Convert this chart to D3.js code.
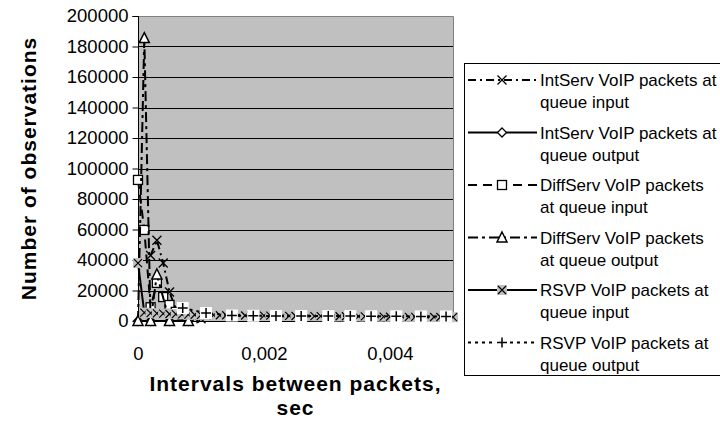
<!DOCTYPE html>
<html><head><meta charset="utf-8">
<script src="https://cdn.jsdelivr.net/npm/d3@7/dist/d3.min.js"></script>
<style>
body{margin:0;background:#fff}
svg{display:block}
text{font-family:"Liberation Sans",Arial,sans-serif;fill:#000}
</style>
</head><body>
<svg id="c" width="720" height="425"></svg>
<script>
// ---------- data ----------
const yTicks = [0, 20000, 40000, 60000, 80000, 100000, 120000, 140000, 160000, 180000, 200000];
const xTicks = [0, 0.002, 0.004];
const xTitleLines = ["Intervals between packets,", "sec"];
const yTitle = "Number of observations";

const seriesNames = [
  ["IntServ VoIP packets at", "queue input"],
  ["IntServ VoIP packets at", "queue output"],
  ["DiffServ VoIP packets", "at queue input"],
  ["DiffServ VoIP packets", "at queue output"],
  ["RSVP VoIP packets at", "queue input"],
  ["RSVP VoIP packets at", "queue output"]
];

// IntServ input
const intInX = [0.0002, 0.0003, 0.0004, 0.0005, 0.0006, 0.0007, 0.0008, 0.0009, 0.001];
const intInY = [43000, 53000, 38000, 19000, 8000, 4500, 3000, 2000, 1500];
// IntServ output
const intOutX = [0, 0.0002, 0.0005, 0.0008];
const intOutY = [0, 0, 0, 0];
// DiffServ input
const diffInX = [0, 0.0001, 0.0002, 0.0003, 0.0004, 0.0005, 0.0006, 0.0007, 0.0008];
const diffInY = [92500, 59700, 9000, 25000, 15700, 10500, 6000, 4000, 3000];
// DiffServ output
const diffOutX = [0, 0.0001, 0.0002, 0.0003, 0.0005, 0.0008];
const diffOutY = [0, 185500, 0, 30500, 0, 0];
// RSVP input
const rsvpInX = [0, 0.0001, 0.0002, 0.0003, 0.0004, 0.0005, 0.0006, 0.0007, 0.0008, 0.0009, 0.001,
  0.0011, 0.0012, 0.0013, 0.0014, 0.0015, 0.0016, 0.0017, 0.0018, 0.0019, 0.002,
  0.0021, 0.0022, 0.0023, 0.0024, 0.0025, 0.0026, 0.0027, 0.0028, 0.0029, 0.003,
  0.0031, 0.0032, 0.0033, 0.0034, 0.0035, 0.0036, 0.0037, 0.0038, 0.0039, 0.004,
  0.0041, 0.0042, 0.0043, 0.0044, 0.0045, 0.0046, 0.0047, 0.0048, 0.0049, 0.005];
const rsvpInY = [38000, 5500, 5200, 5000, 4800, 4600, 4500, 4300, 4200, 4100, 4000,
  3900, 3900, 3800, 3800, 3700, 3700, 3600, 3600, 3600, 3500,
  3500, 3400, 3400, 3400, 3300, 3300, 3300, 3200, 3200, 3200,
  3100, 3100, 3100, 3000, 3000, 3000, 2900, 2900, 2900, 2800,
  2800, 2800, 2700, 2700, 2700, 2600, 2600, 2600, 2500, 2500];
// RSVP output
const rsvpOutX = [0.00071, 0.00108, 0.00149, 0.00183, 0.00219, 0.00259, 0.00302, 0.00337, 0.0037, 0.0041, 0.00449, 0.00489];
const rsvpOutY = [8500, 5200, 3600, 3400, 3300, 3300, 3200, 3200, 3100, 3100, 3000, 3000];

// ---------- layout ----------
const svg = d3.select("#c");
const P = {l: 138, r: 453, t: 16, b: 321};
const x = d3.scaleLinear().domain([0, 0.005]).range([P.l, P.r]);
const y = d3.scaleLinear().domain([0, 200000]).range([P.b, P.t]);
const loc = d3.formatLocale({decimal: ",", thousands: "", grouping: [3], currency: ["", ""]});

// plot area
svg.append("rect").attr("x", P.l).attr("y", P.t).attr("width", P.r - P.l).attr("height", P.b - P.t)
  .attr("fill", "#c0c0c0");
// gridlines
svg.append("g").selectAll("line").data(yTicks.filter(d => d > 0 && d < 200000)).join("line")
  .attr("x1", P.l).attr("x2", P.r).attr("y1", d => Math.round(y(d)) + 0.5).attr("y2", d => Math.round(y(d)) + 0.5)
  .attr("stroke", "#000").attr("stroke-width", 1);
// border top/right
svg.append("path").attr("d", `M${P.l},${P.t + 0.5}H${P.r + 0.5}V${P.b}`).attr("fill", "none")
  .attr("stroke", "#808080").attr("stroke-width", 1);

// axes
const yAxis = d3.axisLeft(y).tickValues(yTicks).tickFormat(d3.format("d")).tickSize(6).tickPadding(4);
const gy = svg.append("g").attr("transform", `translate(${P.l + 0.5},0)`).call(yAxis);
gy.selectAll("text").attr("font-size", 18.5).style("font-family", '"Liberation Sans",Arial,sans-serif');
gy.selectAll("line, path").attr("stroke", "#000");
gy.select(".domain").attr("d", `M-6,${P.t + 0.5}H0V${P.b}`);

const xAxis = d3.axisBottom(x).tickValues(xTicks).tickFormat(d => d === 0 ? "0" : loc.format(".3f")(d)).tickSize(0).tickPadding(25);
const gx = svg.append("g").attr("transform", `translate(0,${P.b + 0.5})`).call(xAxis);
gx.selectAll("text").attr("font-size", 18.5).style("font-family", '"Liberation Sans",Arial,sans-serif');
gx.select(".domain").attr("stroke", "#000").attr("d", `M${P.l},0H${P.r}`);

// titles
svg.append("text").attr("transform", `translate(36,${(P.t + P.b) / 2}) rotate(-90)`)
  .attr("text-anchor", "middle").attr("font-weight", "bold").attr("font-size", 21).attr("letter-spacing", 1)
  .text(yTitle);
svg.append("g").selectAll("text").data(xTitleLines).join("text")
  .attr("x", (P.l + P.r) / 2).attr("y", (d, i) => 391 + i * 24)
  .attr("text-anchor", "middle").attr("font-weight", "bold").attr("font-size", 21).attr("letter-spacing", 1)
  .text(d => d);

// ---------- marker drawing ----------
function marker(g, type) {
  if (type === "x") {
    g.append("path").attr("d", "M-4.5,-4.5L4.5,4.5M-4.5,4.5L4.5,-4.5").attr("stroke", "#000").attr("stroke-width", 1.3).attr("fill", "none");
  } else if (type === "diamond") {
    g.append("path").attr("d", "M0,-4.5L4.5,0L0,4.5L-4.5,0Z").attr("fill", "#fff").attr("stroke", "#000").attr("stroke-width", 1.3);
  } else if (type === "square") {
    g.append("rect").attr("x", -4.5).attr("y", -4.5).attr("width", 9).attr("height", 9).attr("fill", "#fff").attr("stroke", "#000").attr("stroke-width", 1.3);
  } else if (type === "triangle") {
    g.append("path").attr("d", "M0,-5.5L5,4.5L-5,4.5Z").attr("fill", "#fff").attr("stroke", "#000").attr("stroke-width", 1.5);
  } else if (type === "xbox") {
    g.append("rect").attr("x", -5).attr("y", -5).attr("width", 10).attr("height", 10).attr("fill", "#c0c0c0");
    g.append("path").attr("d", "M-4,-4L4,4M-4,4L4,-4").attr("stroke", "#000").attr("stroke-width", 1.2).attr("fill", "none");
  } else if (type === "plus") {
    g.append("rect").attr("x", -6).attr("y", -6).attr("width", 12).attr("height", 12).attr("fill", "#fff");
    g.append("path").attr("d", "M-5,0H5M0,-5V5").attr("stroke", "#000").attr("stroke-width", 1.5).attr("fill", "none");
  }
}

const series = [
  {xs: intInX, ys: intInY, dash: "8,4,2,4", m: "x"},
  {xs: intOutX, ys: intOutY, dash: null, m: "diamond"},
  {xs: diffInX, ys: diffInY, dash: "9,6", m: "square"},
  {xs: diffOutX, ys: diffOutY, dash: "10,4,3,4", m: "triangle"},
  {xs: rsvpInX, ys: rsvpInY, dash: null, m: "xbox"},
  {xs: rsvpOutX, ys: rsvpOutY, dash: "3,4", m: "plus"}
];

const line = d3.line().x(d => x(d[0])).y(d => y(d[1]));
const plotG = svg.append("g");
series.forEach(s => {
  const pts = s.xs.map((v, i) => [v, s.ys[i]]);
  plotG.append("path").attr("d", line(pts)).attr("fill", "none").attr("stroke", "#000")
    .attr("stroke-width", 2).attr("stroke-dasharray", s.dash);
  pts.forEach(p => {
    const g = plotG.append("g").attr("transform", `translate(${x(p[0])},${y(p[1])})`);
    marker(g, s.m);
  });
});

// ---------- legend ----------
const L = {x: 464, y: 63, w: 270, h: 312};
svg.append("rect").attr("x", L.x + 0.5).attr("y", L.y + 0.5).attr("width", L.w).attr("height", L.h)
  .attr("fill", "#fff").attr("stroke", "#000").attr("stroke-width", 1);
series.forEach((s, i) => {
  const cy = 80 + i * 52.5;
  const g = svg.append("g");
  g.append("line").attr("x1", 468).attr("x2", 537).attr("y1", cy).attr("y2", cy)
    .attr("stroke", "#000").attr("stroke-width", 2).attr("stroke-dasharray", s.dash);
  const mg = g.append("g").attr("transform", `translate(502,${cy})`);
  marker(mg, s.m);
  g.selectAll("text").data(seriesNames[i]).join("text")
    .attr("x", 540).attr("y", (d, j) => cy + 6 + j * 22)
    .attr("font-size", 17).text(d => d);
});
</script>
</body></html>
